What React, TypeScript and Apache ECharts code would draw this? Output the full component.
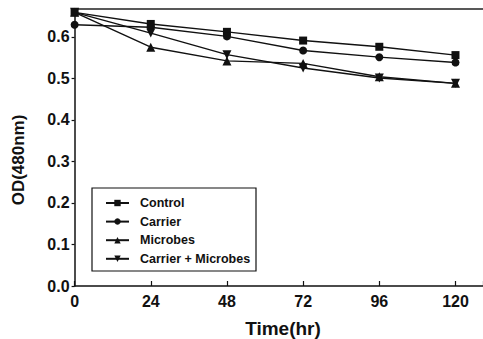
import React, { useEffect, useRef } from "react";
import * as echarts from "echarts";

const hours = [0, 24, 48, 72, 96, 120];
const control = [0.659, 0.631, 0.612, 0.591, 0.576, 0.556];
const carrier = [0.629, 0.623, 0.601, 0.567, 0.551, 0.538];
const microbes = [0.659, 0.575, 0.542, 0.536, 0.504, 0.488];
const carrierMicrobes = [0.659, 0.609, 0.557, 0.525, 0.501, 0.488];
const seriesNames = ["Control", "Carrier", "Microbes", "Carrier + Microbes"];

const FONT = "'Liberation Sans', Arial, sans-serif";
const INV_TRI = "path://M0,0 L10,0 L5,9 Z";

export default function App() {
  const ref = useRef<HTMLDivElement>(null);
  useEffect(() => {
    if (!ref.current) return;
    const chart = echarts.init(ref.current, undefined, { renderer: "svg" });
    const mk = (vals: number[]) => hours.map((h, i) => [h, vals[i]]);
    const base = {
      type: "line",
      color: "#111",
      lineStyle: { color: "#111", width: 1.4 },
      itemStyle: { color: "#111" },
      symbolSize: 8,
    };
    chart.setOption({
      animation: false,
      backgroundColor: "#fff",
      grid: { left: 74.6, right: 0, top: 9, bottom: 53, outerBoundsMode: "none", containLabel: false },
      xAxis: [
        {
          type: "value",
          min: 0,
          max: 128.67,
          interval: 24,
          axisLine: { lineStyle: { color: "#111", width: 1.5 } },
          axisTick: { inside: true, length: 5, lineStyle: { color: "#111", width: 1.2 } },
          splitLine: { show: false },
          axisLabel: {
            margin: 7,
            color: "#111",
            fontSize: 16,
            fontWeight: "bold",
            fontFamily: FONT,
            formatter: (v: number) => (Math.abs(v % 24) < 1e-6 && v <= 120 ? String(v) : ""),
          },
        },
        {
          type: "value",
          position: "top",
          min: 0,
          max: 128.67,
          axisLine: { show: true, lineStyle: { color: "#222", width: 1.5 } },
          axisTick: { show: false },
          axisLabel: { show: false },
          splitLine: { show: false },
        },
      ],
      yAxis: {
        type: "value",
        min: 0,
        max: 0.667,
        interval: 0.1,
        axisLine: { show: true, lineStyle: { color: "#111", width: 1.5 } },
        axisTick: { show: true, length: 3, lineStyle: { color: "#111", width: 1.2 } },
        splitLine: { show: false },
        axisLabel: {
          margin: 5,
          color: "#111",
          fontSize: 16,
          fontWeight: "bold",
          fontFamily: FONT,
          formatter: (v: number) => {
            const r = Math.round(v * 10) / 10;
            return Math.abs(r - v) < 1e-6 && r <= 0.6 ? r.toFixed(1) : "";
          },
        },
      },
      legend: {
        orient: "vertical",
        left: 105,
        top: 196,
        itemWidth: 23,
        itemHeight: 8,
        itemGap: 4.6,
        padding: 0,
        data: seriesNames,
        textStyle: {
          color: "#111",
          fontSize: 12.5,
          fontWeight: "bold",
          fontFamily: FONT,
          lineHeight: 14,
          padding: [0, 0, 0, 6],
        },
      },
      graphic: [
        {
          type: "rect",
          shape: { x: 92, y: 188, width: 164, height: 83 },
          style: { fill: "none", stroke: "#111", lineWidth: 1.2 },
          silent: true,
        },
        {
          type: "text",
          x: 18,
          y: 160,
          rotation: Math.PI / 2,
          style: {
            text: "OD(480nm)",
            fill: "#111",
            font: `bold 17px ${FONT}`,
            textAlign: "center",
            textVerticalAlign: "middle",
          },
        },
        {
          type: "text",
          x: 283,
          y: 328,
          style: {
            text: "Time(hr)",
            fill: "#111",
            font: `bold 19px ${FONT}`,
            textAlign: "center",
            textVerticalAlign: "middle",
          },
        },
      ],
      series: [
        { ...base, name: seriesNames[0], symbol: "rect", symbolSize: 8, data: mk(control) },
        { ...base, name: seriesNames[1], symbol: "circle", symbolSize: 8, data: mk(carrier) },
        { ...base, name: seriesNames[2], symbol: "triangle", symbolSize: 9, data: mk(microbes) },
        { ...base, name: seriesNames[3], symbol: INV_TRI, symbolSize: 9, data: mk(carrierMicrobes) },
      ],
    });
    return () => chart.dispose();
  }, []);
  return (
    <div
      ref={ref}
      style={{ position: "fixed", left: 0, top: 0, width: 483, height: 339, background: "#fff" }}
    />
  );
}
